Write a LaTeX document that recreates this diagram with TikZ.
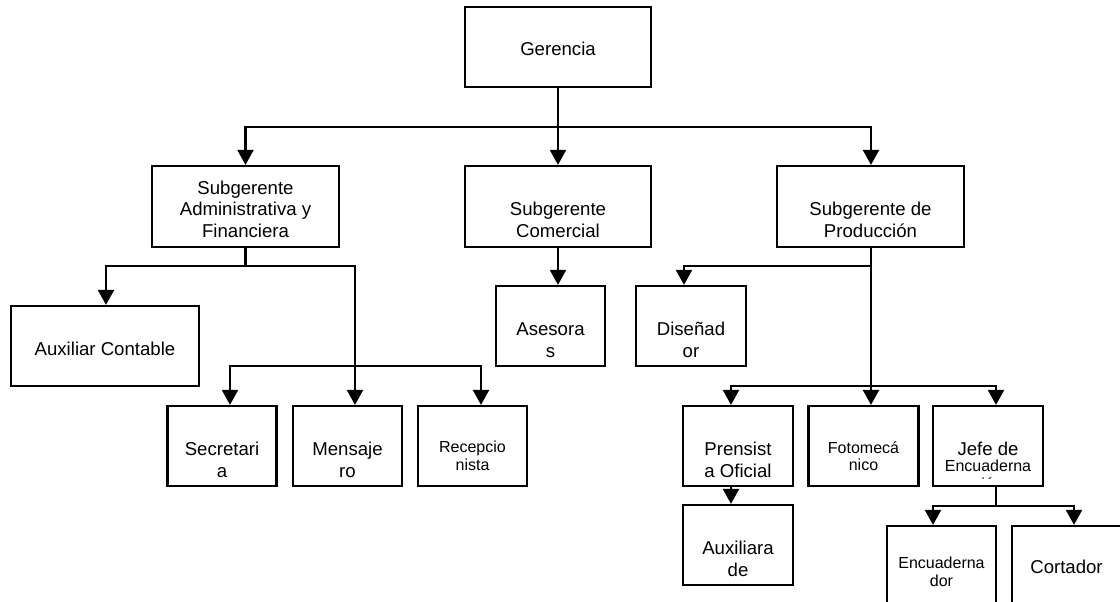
\documentclass[tikz,border=0pt]{standalone}
\usepackage{fontspec}
\setmainfont{Liberation Sans}
\usetikzlibrary{arrows.meta,calc}
\newcommand\fbig{\fontsize{18.6}{21.5}\selectfont}
\newcommand\fsmall{\fontsize{16}{17.5}\selectfont}
\tikzset{
  box/.style={draw, line width=2.2pt, inner sep=0pt, minimum height=80pt},
  txt/.style={inner sep=0pt, align=center, font=\fbig},
  stxt/.style={inner sep=0pt, align=center, font=\fsmall},
  conn/.style={line width=2.2pt},
  arr/.style={conn, -{Triangle[length=15pt,width=16pt]}}
}
\begin{document}
\begin{tikzpicture}[x=1pt,y=-1pt]
\path[use as bounding box, clip] (0,0) rectangle (1120,602);
\fill[white] (0,0) rectangle (1120,602);
% boxes
\node[box, minimum width=186pt] (ger) at (558,47) {};
\node[box, minimum width=187pt, minimum height=81pt] (sa) at (245.5,206.5) {};
\node[box, minimum width=186pt, minimum height=81pt] (sc) at (558,206.5) {};
\node[box, minimum width=187pt, minimum height=81pt] (sp) at (870.5,206.5) {};
\node[box, minimum width=188pt] (aux) at (105,346) {};
\node[box, minimum width=109pt] (ase) at (550.5,326) {};
\node[box, minimum width=110pt] (dis) at (691,326) {};
\node[box, minimum width=109pt] (sec) at (222,446) {};
\node[box, minimum width=109pt] (men) at (347.5,446) {};
\node[box, minimum width=109pt] (rec) at (472.5,446) {};
\node[box, minimum width=110pt] (pre) at (738,446) {};
\node[box, minimum width=110pt] (fot) at (863.5,446) {};
\node[box, minimum width=110pt] (jef) at (988,446) {};
\node[box, minimum width=110pt] (auxd) at (738,545) {};
\node[box, minimum width=109pt] (enc) at (941.5,566) {};
\node[box, minimum width=109pt] (cor) at (1066.5,566) {};
% texts
\node[txt] at (558,49) {Gerencia};
\node[txt] at (245.5,209) {Subgerente\\Administrativa y\\Financiera};
\node[txt] at (558,220) {Subgerente\\Comercial};
\node[txt] at (870.5,220) {Subgerente de\\Producci\'on};
\node[txt] at (105,349) {Auxiliar Contable};
\node[txt] at (550.5,340) {Asesora\\s};
\node[txt] at (691,340) {Diseñad\\or};
\node[txt] at (222,460) {Secretari\\a};
\node[txt] at (347.5,460) {Mensaje\\ro};
\node[stxt] at (472.5,456) {Recepcio\\nista};
\node[txt] at (738,460) {Prensist\\a Oficial};
\node[stxt] at (863.5,456) {Fotomecá\\nico};
\node[txt] at (988,449) {Jefe de};
\begin{scope}
\clip (935,440) rectangle (1041,478);
\node[stxt] at (988,465.5) {Encuaderna};
\node[stxt] at (988,483.5) {ción};
\end{scope}
\node[txt] at (738,559) {Auxiliara\\de};
\node[stxt] at (941.5,572) {Encuaderna\\dor};
\node[txt] at (1066.5,567) {Cortador};
% connectors
\coordinate (j0) at (558,127);
\draw[conn] (ger.south) -- (j0);
\draw[arr] (j0) -| (sa.north);
\draw[arr] (j0) -- (sc.north);
\draw[arr] (j0) -| ($(sp.north)+(0.5,0)$);
\coordinate (j1) at (245.5,266);
\draw[conn] (sa.south) -- (j1);
\draw[arr] (j1) -| ($(aux.north)+(1,0)$);
\draw[arr] (j1) -| ($(men.north)+(7.5,0)$);
\coordinate (j2) at (355,366);
\draw[arr] (j2) -| ($(sec.north)+(8,0)$);
\draw[arr] (j2) -| ($(rec.north)+(8.5,0)$);
\draw[arr] ($(sc.south)$) -- ($(ase.north)+(7.5,0)$);
\coordinate (j3) at (871,266);
\draw[conn] ($(sp.south)+(0.5,0)$) -- (j3);
\draw[arr] (j3) -| ($(dis.north)+(-7,0)$);
\draw[arr] (j3) -- ($(fot.north)+(7.5,0)$);
\coordinate (j4) at (871,386);
\draw[arr] (j4) -| ($(pre.north)+(-7,0)$);
\draw[arr] (j4) -| ($(jef.north)+(8,0)$);
\draw[arr] ($(pre.south)+(-7,0)$) -- ($(auxd.north)+(-7,0)$);
\coordinate (j5) at (996,506);
\draw[conn] ($(jef.south)+(8,0)$) -- (j5);
\draw[arr] (j5) -| ($(enc.north)+(-8.5,0)$);
\draw[arr] (j5) -| ($(cor.north)+(7.5,0)$);
\end{tikzpicture}
\end{document}
